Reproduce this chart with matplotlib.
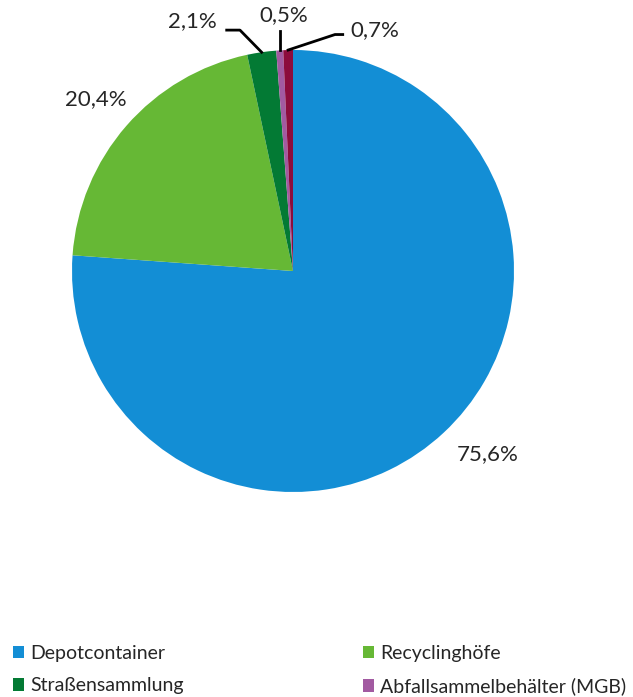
import numpy as np
import matplotlib
matplotlib.use("Agg")
import matplotlib.pyplot as plt
from matplotlib.patches import Patch

plt.rcParams['font.family'] = ['Lato', 'DejaVu Sans']

# Anteile der Sammelsysteme (%)
categories = ["Depotcontainer", "Recyclinghöfe", "Straßensammlung",
              "Abfallsammelbehälter (MGB)", "Sonstige"]
shares = [75.6, 20.4, 2.1, 0.5, 0.7]
labels = ["75,6%", "20,4%", "2,1%", "0,5%", "0,7%"]
colors = ["#138ed5", "#66b835", "#037a34", "#a25aa1", "#8c0c3c"]

W, H = 633, 697
fig = plt.figure(figsize=(W / 100, H / 100), dpi=100)

cx, cy, r = 293, 271, 221
ax = fig.add_axes([(cx - r) / W, (H - cy - r) / H, 2 * r / W, 2 * r / H])
wedges, _ = ax.pie(shares, colors=colors, startangle=90, counterclock=False,
                   radius=1.0, wedgeprops=dict(linewidth=0))
ax.set_xlim(-1, 1)
ax.set_ylim(-1, 1)
ax.set_aspect('equal')
ax.axis('off')


def mid_point(w, rad=1.0):
    ang = np.deg2rad((w.theta1 + w.theta2) / 2)
    return rad * np.cos(ang), rad * np.sin(ang)


# label text positions (in pie radius units)
text_pos = [(0.88, -0.83), (-0.89, 0.78), (-0.455, 1.13), (-0.04, 1.16), (0.37, 1.09)]
for w, lab, (tx, ty) in zip(wedges, labels, text_pos):
    ax.text(tx, ty, lab, ha='center', va='center', fontsize=16, color='#262626')

# leader lines for the small slices
lw = 2.0
x0, y0 = mid_point(wedges[2])
ax.plot([x0, -0.24, -0.30], [y0, 1.09, 1.09], color='black', lw=lw, clip_on=False)
x0, y0 = mid_point(wedges[3])
ax.plot([x0, x0], [y0, 1.085], color='black', lw=lw, clip_on=False)
x0, y0 = mid_point(wedges[4])
ax.plot([x0, 0.19, 0.225], [y0, 1.07, 1.07], color='black', lw=lw, clip_on=False)

# legend filled row by row: reorder for column-major layout
order = [0, 2, 1, 3]
handles = [Patch(facecolor=colors[i], edgecolor='none') for i in order]
fig.legend(handles, [categories[i] for i in order], ncol=2, loc='upper left',
           bbox_to_anchor=(5 / W, 1 - 637 / H), frameon=False, fontsize=14,
           handlelength=0.6, handleheight=0.6, handletextpad=0.3,
           columnspacing=9.2, labelspacing=0.8, labelcolor='#262626',
           borderaxespad=0)

fig.savefig("out.png", dpi=100)
